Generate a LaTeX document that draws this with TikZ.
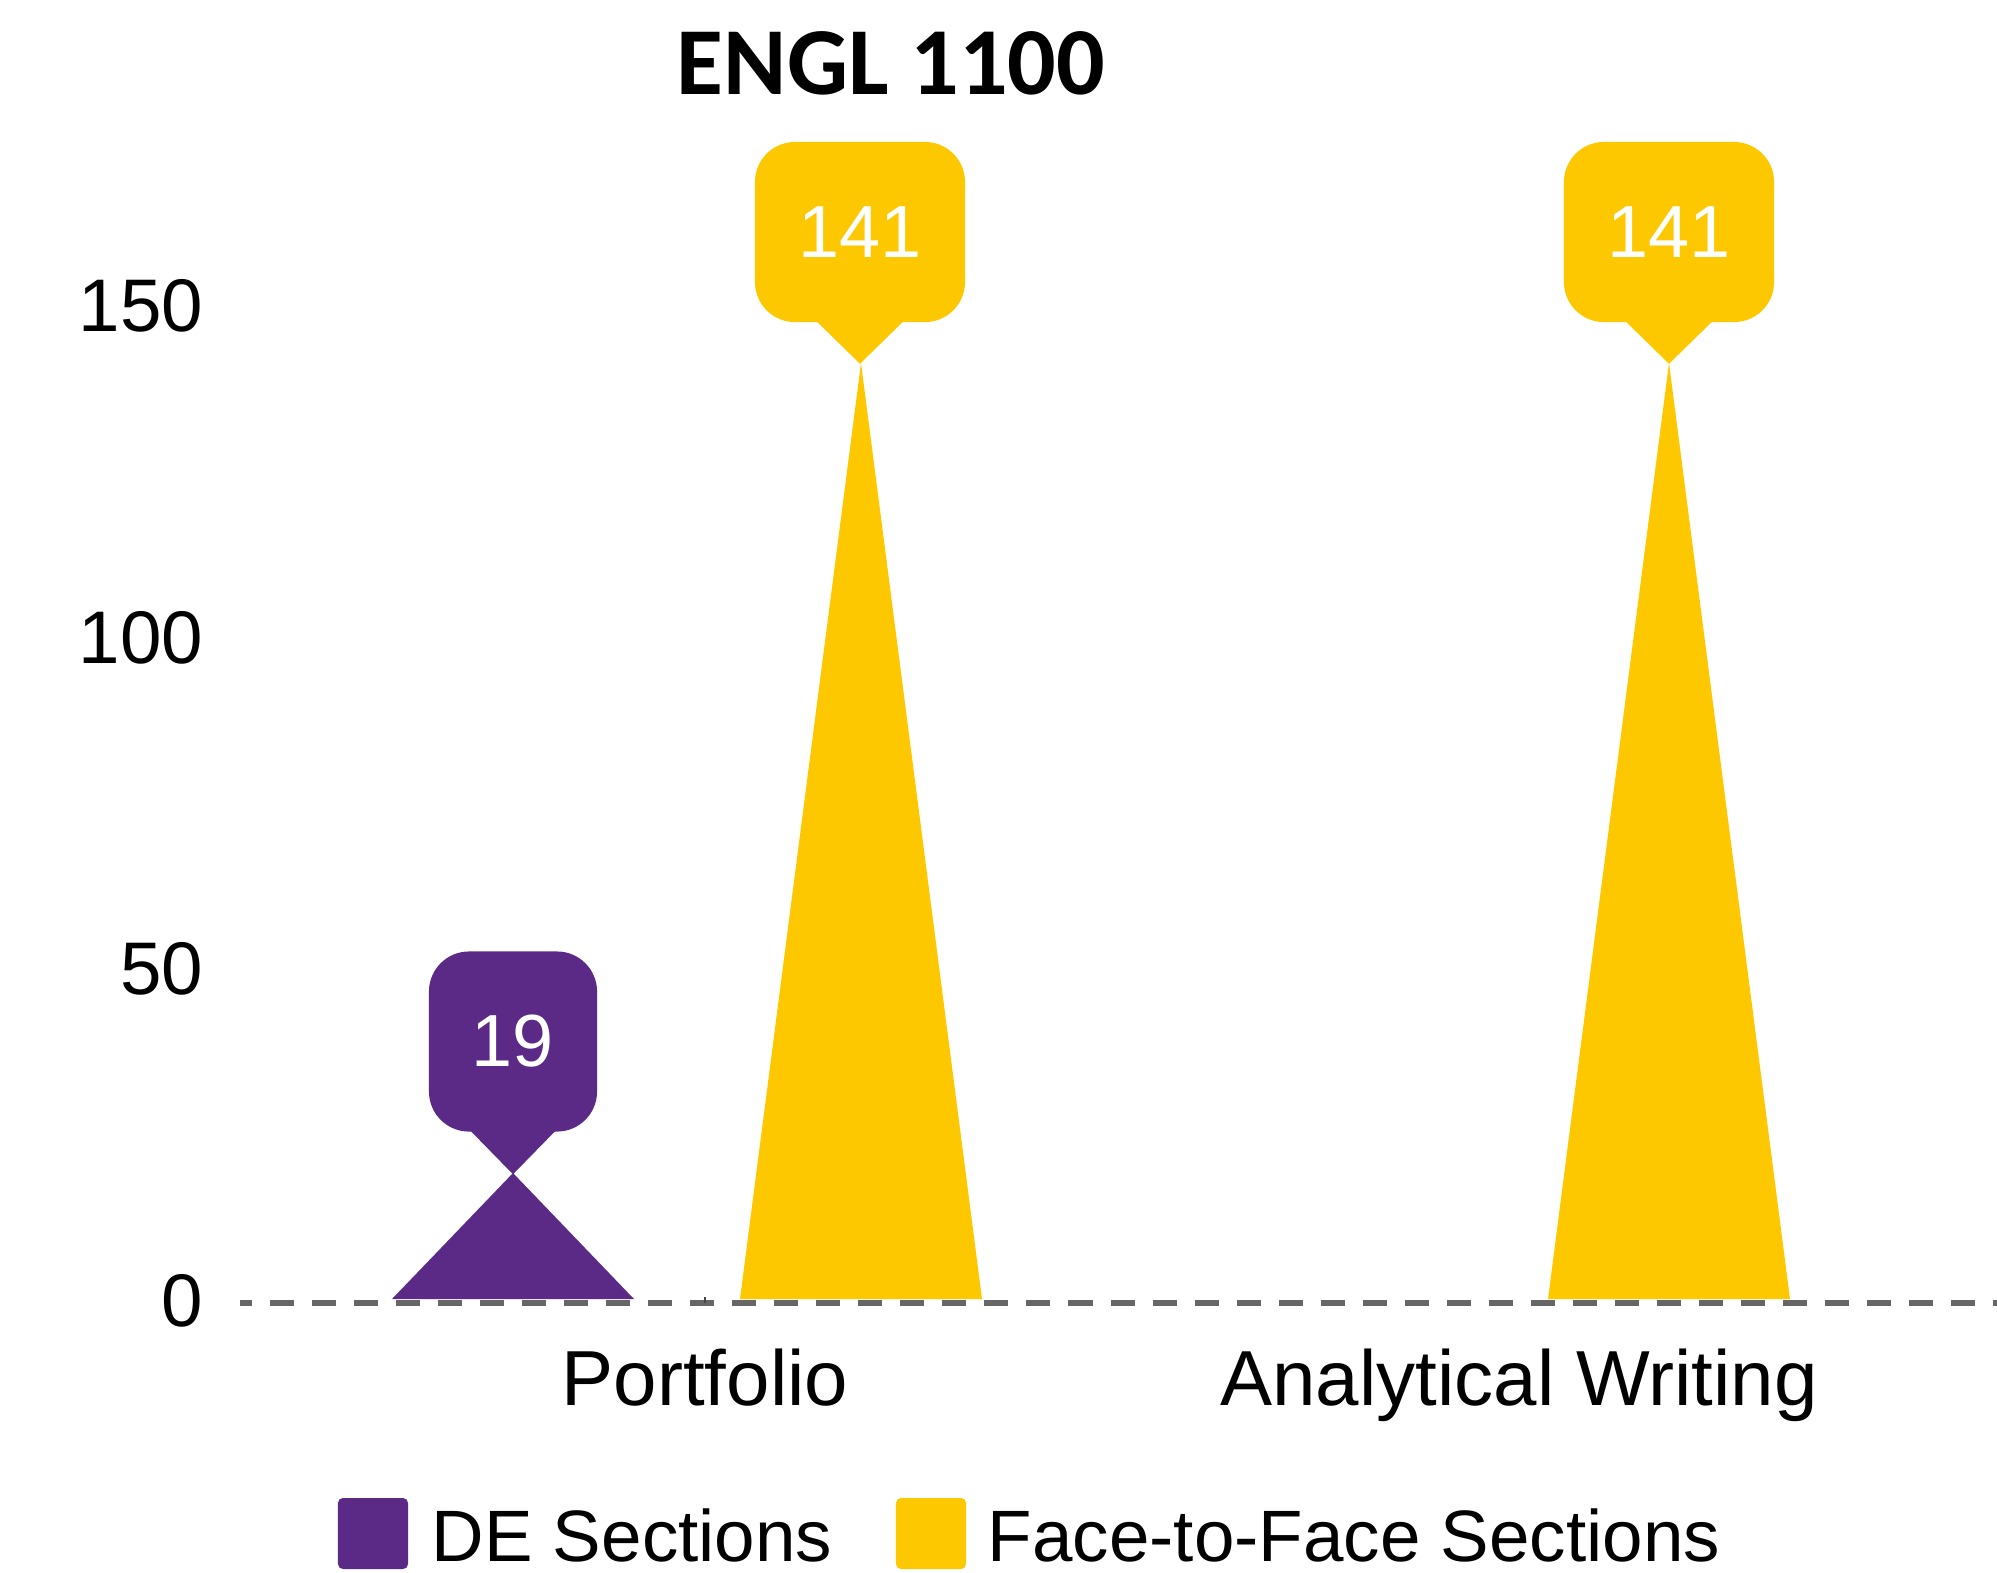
\documentclass[tikz,border=0pt]{standalone}
\usepackage{fontspec}
\setmainfont{Liberation Sans}
\newfontfamily\titlefont{Carlito}
\definecolor{dePurple}{HTML}{5B2A86}
\definecolor{ftfGold}{HTML}{FDC800}
\definecolor{zeroGray}{HTML}{666666}

\begin{document}
\begin{tikzpicture}[x=0.01cm,y=-0.01cm,
  lbl/.style={inner sep=0pt,font=\fontsize{22.2}{22.2}\selectfont},
  ticklbl/.style={inner sep=0pt,anchor=east,font=\fontsize{21.2}{21.2}\selectfont},
  leglbl/.style={inner sep=0pt,anchor=base west,font=\fontsize{20.7}{20.7}\selectfont},
  datalbl/.style={rounded corners=0.4cm,minimum height=1.8cm,inner sep=0pt,text=white,
    font=\fontsize{21}{21}\selectfont},
  legbox/.style={rounded corners=0.05cm,minimum width=0.7cm,minimum height=0.71cm,inner sep=0pt}]
  \useasboundingbox (0,0) rectangle (1997,1572);
  % title
  \node[anchor=base,font=\titlefont\bfseries\fontsize{27.3}{27.3}\selectfont] (title) at (891,94) {ENGL 1100};
  % y axis labels
  \foreach \v in {0,50,100,150}
    \node[ticklbl] (tick\v) at (204,{1301-6.636*\v}) {\v};
  % spikes
  \fill[dePurple] (392,1299) -- (513,1173) -- (634,1299) -- cycle;
  \fill[ftfGold] (740,1299) -- (861,363) -- (982,1299) -- cycle;
  \fill[ftfGold] (1548,1299) -- (1669,363) -- (1790,1299) -- cycle;
  % zero line
  \draw[zeroGray,line width=0.055cm,dash pattern=on 0.24cm off 0.18cm,dash phase=0.12cm]
    (240,1303) -- (1997,1303);
  \draw[zeroGray!70!black,line width=0.015cm] (705,1297) -- (705,1303);
  % value labels
  \node[datalbl,fill=dePurple,minimum width=1.68cm] (de19) at (513,1041.5) {19};
  \fill[dePurple] (de19.south) +(-43,-2) -- +(43,-2) -- +(0,42) -- cycle;
  \node[datalbl,fill=ftfGold,minimum width=2.1cm] (ftfPort) at (860,232) {141};
  \fill[ftfGold] (ftfPort.south) +(-44,-2) -- +(44,-2) -- +(0,41) -- cycle;
  \node[datalbl,fill=ftfGold,minimum width=2.1cm] (ftfAW) at (1669,232) {141};
  \fill[ftfGold] (ftfAW.south) +(-44,-2) -- +(44,-2) -- +(0,41) -- cycle;
  % categories
  \node[lbl,anchor=base] (catPort) at (705,1405) {Portfolio};
  \node[lbl,anchor=base] (catAW) at (1519,1405) {Analytical Writing};
  % legend
  \node[legbox,fill=dePurple] (legDE) at (373,1533.5) {};
  \node[leglbl] (legDEtxt) at (431,1561) {DE Sections};
  \node[legbox,fill=ftfGold] (legFTF) at (931,1533.5) {};
  \node[leglbl] (legFTFtxt) at (987,1561) {Face-to-Face Sections};
\end{tikzpicture}
\end{document}
